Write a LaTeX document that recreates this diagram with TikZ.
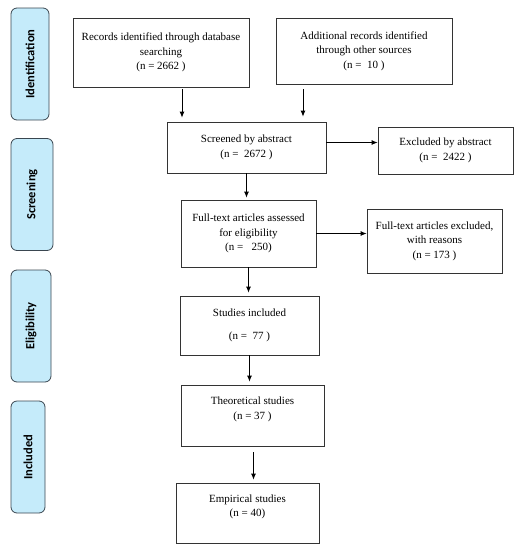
\documentclass[tikz,border=0pt]{standalone}
\usepackage{fontspec}
\setmainfont{Liberation Serif}
\newfontfamily\sidefont{Carlito}
\usepackage{tikz}
\usetikzlibrary{arrows.meta, positioning, calc}
\usepackage{xcolor}
\definecolor{stagefill}{HTML}{C5EBFA}
\definecolor{stageline}{HTML}{3A4650}

\begin{document}
\begin{tikzpicture}[
  x=1pt, y=-1pt,
  box/.style={draw=black!80, line width=0.8pt,
    inner sep=2pt, align=center,
    font=\fontsize{11}{14.5}\selectfont},
  stage/.style={draw=stageline, line width=0.8pt, fill=stagefill,
    rounded corners=6pt, minimum height=112pt,
    font=\sidefont\bfseries\fontsize{12.5}{14}\selectfont},
  arr/.style={line width=0.8pt, -{Latex[length=6pt,width=5pt]}}
]
\useasboundingbox (0,0) rectangle (527,550);

% stage labels on the left
\node[stage, minimum width=38pt] (sid) at (30,64)
    {\rotatebox{90}{Identification}};
\node[stage, minimum width=42pt] (sscr) at (32,194.5)
    {\rotatebox{90}{Screening}};
\node[stage, minimum width=40pt] (selig) at (31,326)
    {\rotatebox{90}{Eligibility}};
\node[stage, minimum width=34pt] (sincl) at (28,457)
    {\rotatebox{90}{Included}};

% flow boxes
\node[box, minimum width=176pt, minimum height=69pt] (rec) at (161,52.5)
    {Records identified through database\\ searching\\ (n = 2662 )};
\node[box, minimum width=176pt, minimum height=66pt] (add) at (364,51)
    {Additional records identified\\ through other sources\\ (n =\ \ 10 )};
\node[box, minimum width=159pt, minimum height=51pt] (scr) at (246.5,147.5)
    {Screened by abstract\\ (n =\ \ 2672 )};
\node[box, minimum width=135pt, minimum height=47pt] (exa) at (445.5,150.5)
    {Excluded by abstract\\ (n =\ \ 2422 )};
\node[box, minimum width=135pt, minimum height=67pt] (full) at (248.5,233.5)
    {Full-text articles assessed\\ for eligibility\\ (n =\ \ \ 250)};
\node[box, minimum width=135pt, minimum height=64pt] (exf) at (434.5,241)
    {Full-text articles excluded,\\ with reasons\\ (n = 173 )};
\node[box, minimum width=139pt, minimum height=59pt] (inc) at (249.5,325.5)
    {Studies included\\[8pt] (n =\ \ 77 )};
\node[box, minimum width=143pt, minimum height=61pt] (theo) at (252.5,415.5)
    {Theoretical studies\\ (n = 37 )\\ \mbox{}};
\node[box, minimum width=143pt, minimum height=60pt] (emp) at (247.5,513)
    {Empirical studies\\ (n = 40)\\ \mbox{}};

% connectors
\draw[arr, shorten <=2pt, shorten >=4pt] ([xshift=21]rec.south) -- ([xshift=21]rec.south |- scr.north);
\draw[arr, shorten <=5pt, shorten >=5pt] ([xshift=-61]add.south) -- ([xshift=-61]add.south |- scr.north);
\draw[arr] ([yshift=5]scr.east) -- ([yshift=5]scr.east -| exa.west);
\draw[arr, shorten >=2pt] (scr.south) -- (scr.south |- full.north);
\draw[arr] (full.east) -- (full.east -| exf.west);
\draw[arr, shorten >=3pt] (full.south) -- (full.south |- inc.north);
\draw[arr, shorten >=3pt] (inc.south) -- (inc.south |- theo.north);
\draw[arr, shorten <=6pt, shorten >=3pt] ([xshift=4]inc.south |- theo.south) -- ([xshift=4]inc.south |- emp.north);
\end{tikzpicture}
\end{document}
